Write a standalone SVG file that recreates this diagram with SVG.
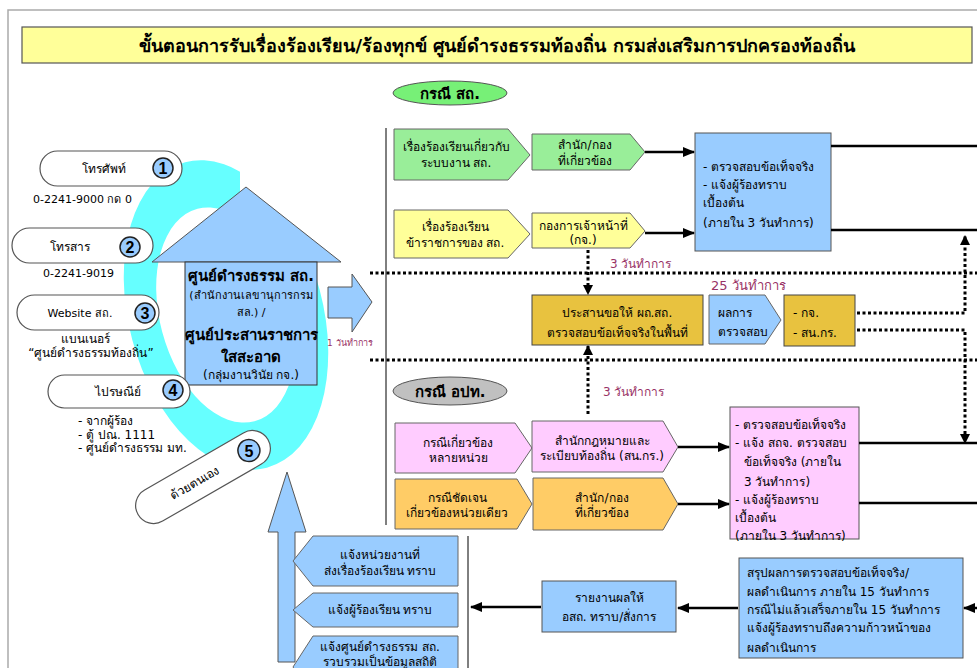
<svg xmlns="http://www.w3.org/2000/svg" width="977" height="668" viewBox="0 0 977 668">
<style>
text{font-family:"DejaVu Sans","Noto Sans",sans-serif;fill:#000;font-size:12px}
.c{text-anchor:middle}
.b{font-weight:bold}
.red{fill:#993366}
.pill{fill:#fff;stroke:#555;stroke-width:1.2}
.num{fill:#99ccff;stroke:#222;stroke-width:1.5}
.numt{font-family:"Liberation Sans",sans-serif;font-weight:bold;font-size:16px;text-anchor:middle}
.lat{font-size:11px}
.sh{stroke:#666;stroke-width:1}
.green{fill:#99ee99}
.yel{fill:#ffff99}
.blue{fill:#99ccff}
.gold{fill:#e8c23f}
.pink{fill:#ffccff}
.org{fill:#ffcc66}
.solid{stroke:#000;stroke-width:2.5;fill:none}
.dot{stroke:#000;stroke-width:3;stroke-dasharray:3 2.5;fill:none}
.thin{stroke:#000;stroke-width:1;fill:none}
</style>
<defs>
<marker id="ah" markerUnits="userSpaceOnUse" markerWidth="12" markerHeight="10" refX="11" refY="5" orient="auto">
<path d="M0,0 L12,5 L0,10 z" fill="#000"/>
</marker>
<marker id="ad" markerUnits="userSpaceOnUse" markerWidth="10" markerHeight="10" refX="9" refY="5" orient="auto">
<path d="M0,0 L10,5 L0,10 z" fill="#000"/>
</marker>
<clipPath id="ringclip">
<path d="M0,0 H240 V262 H400 V668 H0 Z"/>
</clipPath>
</defs>
<rect width="977" height="668" fill="#fff"/>
<path d="M8,668 V10 H977" fill="none" stroke="#aaa" stroke-width="1.5"/>

<g id="title">
<rect x="22" y="27" width="950" height="36" fill="#ffff99" stroke="#555" stroke-width="1.2"/>
<text x="497" y="52" class="c b" style="font-size:18px">ขั้นตอนการรับเรื่องร้องเรียน/ร้องทุกข์ ศูนย์ดำรงธรรมท้องถิ่น กรมส่งเสริมการปกครองท้องถิ่น</text>
</g>

<g id="ring" clip-path="url(#ringclip)">
<path transform="translate(226,315) rotate(-15)" fill="#66ffff" fill-rule="evenodd" d="M-97,0 A97,158 0 1,0 97,0 A97,158 0 1,0 -97,0 Z M-66,0 A66,110 0 1,1 66,0 A66,110 0 1,1 -66,0 Z"/>
</g>

<g id="house">
<polygon points="152,262 246,187 341,262" class="blue" stroke="#555" stroke-width="1"/>
<rect x="185" y="262" width="132" height="123" class="blue" stroke="#333" stroke-width="1"/>
<text x="251" y="281" class="c b" style="font-size:15px">ศูนย์ดำรงธรรม สถ.</text>
<text x="251" y="299" class="c" style="font-size:11px">(สำนักงานเลขานุการกรม</text>
<text x="251" y="316" class="c" style="font-size:11px">สล.) /</text>
<text x="251" y="340" class="c b" style="font-size:15px">ศูนย์ประสานราชการ</text>
<text x="251" y="362" class="c b" style="font-size:15px">ใสสะอาด</text>
<text x="251" y="379" class="c" style="font-size:12px">(กลุ่มงานวินัย กจ.)</text>
</g>

<g id="pill1">
<rect x="40" y="151" width="142" height="35" rx="17.5" class="pill"/>
<text x="104" y="173" class="c">โทรศัพท์</text>
<circle cx="163" cy="168" r="10" class="num"/>
<text x="163" y="174" class="numt">1</text>
<text x="33" y="203" class="lat">0-2241-9000 กด 0</text>
</g>
<g id="pill2">
<rect x="12" y="228" width="141" height="35" rx="17.5" class="pill"/>
<text x="70" y="251" class="c">โทรสาร</text>
<circle cx="130" cy="247" r="10" class="num"/>
<text x="130" y="253" class="numt">2</text>
<text x="43" y="277" class="lat">0-2241-9019</text>
</g>
<g id="pill3">
<rect x="17" y="295" width="142" height="35" rx="17.5" class="pill"/>
<text x="80" y="317" class="c lat">Website สถ.</text>
<circle cx="145" cy="313" r="10" class="num"/>
<text x="145" y="319" class="numt">3</text>
<text x="85" y="343" class="c">แบนเนอร์</text>
<text x="91" y="357" class="c">“ศูนย์ดำรงธรรมท้องถิ่น”</text>
</g>
<g id="pill4">
<rect x="48" y="375" width="142" height="33" rx="16.5" class="pill"/>
<text x="118" y="396" class="c">ไปรษณีย์</text>
<circle cx="173" cy="390" r="10" class="num"/>
<text x="173" y="396" class="numt">4</text>
<text x="78" y="425">- จากผู้ร้อง</text>
<text x="78" y="439">- ตู้ ปณ. 1111</text>
<text x="78" y="452">- ศูนย์ดำรงธรรม มท.</text>
</g>
<g id="pill5" transform="translate(203,477) rotate(-30)">
<rect x="-75" y="-18" width="150" height="36" rx="18" class="pill"/>
<text x="-10" y="5" class="c">ด้วยตนเอง</text>
<circle cx="53" cy="0" r="11" class="num"/>
<text x="53" y="6" class="numt" transform="rotate(30 53 0)">5</text>
</g>

<g id="arrow1day">
<polygon points="328,287 352,287 352,274 372,302 352,332 352,318 328,318" class="blue" stroke="#555" stroke-width="1"/>
<text x="327" y="346" class="red" style="font-size:9px">1  วันทำการ</text>
</g>

<g id="upArrow">
<polygon points="287,472 306,532 295,532 295,662 278,662 278,532 268,532" class="blue" stroke="#555" stroke-width="1"/>
</g>

<g id="caseSK">
<ellipse cx="450" cy="93" rx="57" ry="12" fill="#77f077" stroke="#555" stroke-width="1"/>
<text x="450" y="99" class="c b" style="font-size:15px">กรณี สถ.</text>
</g>

<g id="g1a">
<polygon points="394,129 508,129 530,155 508,180 394,180" class="green sh"/>
<text x="456" y="151" class="c">เรื่องร้องเรียนเกี่ยวกับ</text>
<text x="456" y="167" class="c">ระบบงาน สถ.</text>
</g>
<g id="g1b">
<polygon points="532,134 630,134 645,152 630,170 532,170" class="green sh"/>
<text x="585" y="149" class="c">สำนัก/กอง</text>
<text x="585" y="165" class="c">ที่เกี่ยวข้อง</text>
</g>
<g id="y1a">
<polygon points="394,210 508,210 530,234 508,258 394,258" class="yel sh"/>
<text x="455" y="231" class="c">เรื่องร้องเรียน</text>
<text x="455" y="247" class="c">ข้าราชการของ สถ.</text>
</g>
<g id="y1b">
<polygon points="532,213 630,213 645,231 630,248 532,248" class="yel sh"/>
<text x="583" y="230" class="c">กองการเจ้าหน้าที่</text>
<text x="583" y="244" class="c">(กจ.)</text>
</g>
<g id="check1">
<rect x="695" y="133" width="136" height="118" class="blue" stroke="#555" stroke-width="1"/>
<text x="703" y="171">- ตรวจสอบข้อเท็จจริง</text>
<text x="703" y="189">- แจ้งผู้ร้องทราบ</text>
<text x="703" y="207">เบื้องต้น</text>
<text x="703" y="227">(ภายใน 3 วันทำการ)</text>
</g>

<g id="coord">
<rect x="532" y="295" width="171" height="50" class="gold" stroke="#444" stroke-width="1"/>
<text x="617" y="317" class="c">ประสานขอให้ ผถ.สถ.</text>
<text x="617" y="337" class="c">ตรวจสอบข้อเท็จจริงในพื้นที่</text>
</g>
<g id="result">
<polygon points="709,295 765,295 781,320 765,344 709,344" class="blue sh"/>
<text x="718" y="317">ผลการ</text>
<text x="718" y="336">ตรวจสอบ</text>
</g>
<g id="units">
<rect x="784" y="295" width="71" height="51" class="gold" stroke="#444" stroke-width="1"/>
<text x="793" y="317">- กจ.</text>
<text x="793" y="337">- สน.กร.</text>
</g>

<g id="caseOPT">
<ellipse cx="450" cy="391" rx="57" ry="14" fill="#c0c0c0" stroke="#555" stroke-width="1"/>
<text x="450" y="397" class="c b" style="font-size:15px">กรณี อปท.</text>
</g>
<g id="p1a">
<polygon points="395,423 515,423 532,448 515,473 395,473" class="pink sh"/>
<text x="458" y="447" class="c">กรณีเกี่ยวข้อง</text>
<text x="458" y="462" class="c">หลายหน่วย</text>
</g>
<g id="p1b">
<polygon points="532,421 663,421 678,447 663,472 532,472" class="pink sh"/>
<text x="602" y="445" class="c">สำนักกฎหมายและ</text>
<text x="602" y="460" class="c">ระเบียบท้องถิ่น (สน.กร.)</text>
</g>
<g id="o1a">
<polygon points="395,479 517,479 532,504 517,529 395,529" class="org sh"/>
<text x="457" y="502" class="c">กรณีชัดเจน</text>
<text x="457" y="517" class="c">เกี่ยวข้องหน่วยเดียว</text>
</g>
<g id="o1b">
<polygon points="533,478 663,478 678,504 663,530 533,530" class="org sh"/>
<text x="602" y="502" class="c">สำนัก/กอง</text>
<text x="602" y="517" class="c">ที่เกี่ยวข้อง</text>
</g>
<g id="check2">
<rect x="730" y="407" width="129" height="132" class="pink" stroke="#555" stroke-width="1"/>
<text x="735" y="429">- ตรวจสอบข้อเท็จจริง</text>
<text x="735" y="447">- แจ้ง สถจ. ตรวจสอบ</text>
<text x="744" y="466">ข้อเท็จจริง (ภายใน</text>
<text x="744" y="486">3 วันทำการ)</text>
<text x="735" y="504">- แจ้งผู้ร้องทราบ</text>
<text x="735" y="522">เบื้องต้น</text>
<text x="735" y="540">(ภายใน 3 วันทำการ)</text>
</g>

<g id="summary">
<rect x="739" y="558" width="224" height="100" class="blue" stroke="#555" stroke-width="1"/>
<text x="747" y="577">สรุปผลการตรวจสอบข้อเท็จจริง/</text>
<text x="747" y="596">ผลดำเนินการ ภายใน 15 วันทำการ</text>
<text x="747" y="614">กรณีไม่แล้วเสร็จภายใน 15 วันทำการ</text>
<text x="747" y="632">แจ้งผู้ร้องทราบถึงความก้าวหน้าของ</text>
<text x="747" y="652">ผลดำเนินการ</text>
</g>
<g id="report">
<rect x="542" y="581" width="134" height="51" class="blue" stroke="#555" stroke-width="1"/>
<text x="609" y="602" class="c">รายงานผลให้</text>
<text x="609" y="621" class="c">อสถ. ทราบ/สั่งการ</text>
</g>
<g id="n1">
<polygon points="458,536 458,586 313,586 293,561 313,536" class="blue sh"/>
<text x="380" y="559" class="c">แจ้งหน่วยงานที่</text>
<text x="380" y="575" class="c">ส่งเรื่องร้องเรียน ทราบ</text>
</g>
<g id="n2">
<polygon points="458,593 458,627 313,627 293,610 313,593" class="blue sh"/>
<text x="380" y="614" class="c">แจ้งผู้ร้องเรียน ทราบ</text>
</g>
<g id="n3">
<polygon points="458,636 458,698 313,698 293,667 313,636" class="blue sh"/>
<text x="380" y="651" class="c">แจ้งศูนย์ดำรงธรรม สถ.</text>
<text x="380" y="666" class="c">รวบรวมเป็นข้อมูลสถิติ</text>
</g>

<g id="connectors">
<line x1="386" y1="128" x2="386" y2="525" class="thin"/>
<line x1="468" y1="536" x2="468" y2="668" class="thin"/>
<line x1="645" y1="152" x2="694" y2="152" class="solid" marker-end="url(#ah)"/>
<line x1="645" y1="233" x2="694" y2="233" class="solid" marker-end="url(#ah)"/>
<line x1="831" y1="146" x2="977" y2="146" class="solid"/>
<line x1="831" y1="230" x2="977" y2="230" class="solid"/>
<line x1="370" y1="273" x2="977" y2="273" class="dot"/>
<line x1="370" y1="360" x2="977" y2="360" class="dot"/>
<line x1="588" y1="250" x2="588" y2="294" class="dot" marker-end="url(#ad)"/>
<line x1="588" y1="414" x2="588" y2="346" class="dot" marker-end="url(#ad)"/>
<polyline points="857,313 965,313 965,236" class="dot" marker-end="url(#ad)"/>
<polyline points="857,330 965,330 965,443" class="dot" marker-end="url(#ad)"/>
<line x1="678" y1="447" x2="729" y2="447" class="solid" marker-end="url(#ah)"/>
<line x1="678" y1="504" x2="729" y2="504" class="solid" marker-end="url(#ah)"/>
<line x1="859" y1="443" x2="977" y2="443" class="solid"/>
<line x1="859" y1="503" x2="977" y2="503" class="solid"/>
<line x1="977" y1="608" x2="964" y2="608" class="solid" marker-end="url(#ah)"/>
<line x1="738" y1="608" x2="678" y2="608" class="solid" marker-end="url(#ah)"/>
<line x1="541" y1="607" x2="471" y2="607" class="solid" marker-end="url(#ah)"/>
<text x="610" y="268" class="red">3 วันทำการ</text>
<text x="603" y="396" class="red">3 วันทำการ</text>
<text x="711" y="290" class="red" style="font-size:13px">25 วันทำการ</text>
</g>
</svg>
